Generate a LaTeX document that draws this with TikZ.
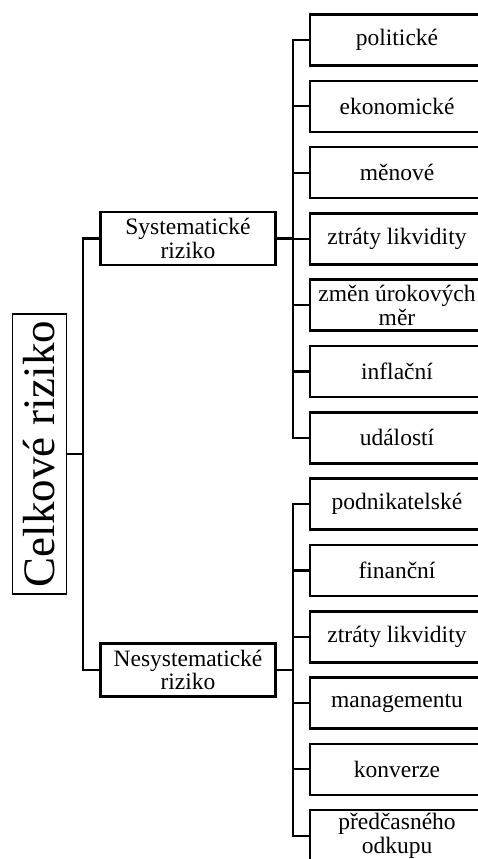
\documentclass[tikz,border=0pt]{standalone}
\usepackage{fontspec}
\setmainfont{Liberation Serif}
\begin{document}
\begin{tikzpicture}[x=1pt,y={(0pt,-1pt)},
  leaf/.style={draw,line width=2.6pt,minimum width=174pt,minimum height=51pt,inner sep=0pt,align=center,font=\fontsize{23.5}{24}\selectfont},
  mid/.style={draw,line width=2.6pt,minimum width=175pt,minimum height=53pt,inner sep=0pt,align=center,font=\fontsize{23.5}{23.5}\selectfont},
  conn/.style={line width=2.2pt,line cap=rect}]
\useasboundingbox (0,0) rectangle (478,859);
\clip (0,0) rectangle (478,859);
\fill[white] (0,0) rectangle (478,859);
\node[draw,line width=1.5pt,minimum width=54pt,minimum height=280pt,inner sep=0pt] (cel) at (39.5,454) {};
\node[rotate=90,font=\fontsize{45}{50}\selectfont,inner sep=0pt] (celt) at (39.5,454) {Celkové riziko};
\node[mid] (sys) at (188,238.5) {Systematické\\riziko};
\node[mid] (nes) at (188,670) {Nesystematické\\riziko};
\node[leaf] (a1) at (397,40) {politické};
\node[leaf] (a2) at (397,106.3) {ekonomické};
\node[leaf] (a3) at (397,172.6) {měnové};
\node[leaf] (a4) at (397,238.9) {ztráty likvidity};
\node[leaf] (a5) at (397,305.2) {změn úrokových\\měr};
\node[leaf] (a6) at (397,371.5) {inflační};
\node[leaf] (a7) at (397,437.8) {událostí};
\node[leaf] (b1) at (397,504.1) {podnikatelské};
\node[leaf] (b2) at (397,570.4) {finanční};
\node[leaf] (b3) at (397,636.7) {ztráty likvidity};
\node[leaf] (b4) at (397,703) {managementu};
\node[leaf] (b5) at (397,769.3) {konverze};
\node[leaf] (b6) at (397,835.6) {předčasného\\odkupu};
\coordinate (t0) at (83,0);
\coordinate (t1) at (293,0);
\draw[conn] (cel.east) -- (cel.east -| t0);
\draw[conn] (sys.west) -| (t0 |- nes.west) -- (nes.west);
\draw[conn] (sys.east) -- (sys.east -| t1);
\draw[conn] (nes.east) -- (nes.east -| t1);
\draw[conn] (a1.west) -| (t1 |- a7.west) -- (a7.west);
\foreach \n in {a2,a3,a4,a5,a6}{\draw[conn] (\n.west) -- (\n.west -| t1);}
\draw[conn] (b1.west) -| (t1 |- b6.west) -- (b6.west);
\foreach \n in {b2,b3,b4,b5}{\draw[conn] (\n.west) -- (\n.west -| t1);}
\end{tikzpicture}
\end{document}
